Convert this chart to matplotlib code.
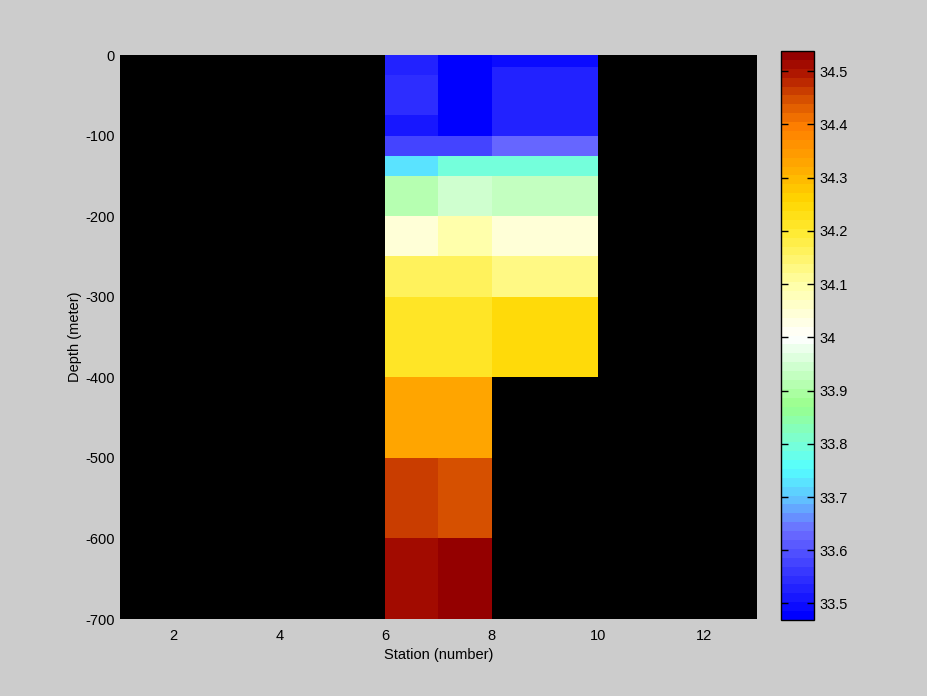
import numpy as np
import matplotlib
matplotlib.use("Agg")
from matplotlib import pyplot as plt
from matplotlib.colors import LinearSegmentedColormap, Normalize

plt.rcParams['font.family'] = ['Liberation Sans', 'DejaVu Sans']
plt.rcParams['font.size'] = 10.5
plt.rcParams['axes.unicode_minus'] = False

# station column edges and per-column depth edges (m) with salinity values
col_x = [[6, 7], [7, 8], [8, 10]]
col_depths = [
    [0, 25, 75, 100, 125, 150, 200, 250, 300, 400, 500, 600, 700],
    [0, 75, 100, 125, 150, 200, 250, 300, 400, 500, 600, 700],
    [0, 15, 100, 125, 150, 200, 250, 300, 400],
]
col_salt = [
    [33.53, 33.54, 33.515, 33.58, 33.73, 33.91, 34.04, 34.17, 34.22, 34.33, 34.46, 34.51],
    [33.47, 33.48, 33.58, 33.80, 33.95, 34.09, 34.17, 34.22, 34.33, 34.44, 34.53],
    [33.50, 33.52, 33.62, 33.80, 33.93, 34.04, 34.13, 34.25],
]

vmin, vmax = 33.469, 34.538
anchors = [
    (33.469, (0.0, 0.0, 1.0)),
    (33.63, (0.42, 0.42, 1.0)),
    (33.69, (0.38, 0.75, 1.0)),
    (33.75, (0.33, 1.0, 1.0)),
    (33.80, (0.48, 1.0, 0.83)),
    (33.87, (0.6, 1.0, 0.55)),
    (33.94, (0.8, 1.0, 0.8)),
    (34.0, (1.0, 1.0, 1.0)),
    (34.1, (1.0, 1.0, 0.66)),
    (34.2, (1.0, 0.92, 0.2)),
    (34.26, (1.0, 0.84, 0.0)),
    (34.32, (1.0, 0.68, 0.0)),
    (34.40, (1.0, 0.5, 0.0)),
    (34.45, (0.85, 0.33, 0.0)),
    (34.50, (0.7, 0.1, 0.0)),
    (34.538, (0.58, 0.0, 0.0)),
]
cmap = LinearSegmentedColormap.from_list(
    'salt', [((v - vmin) / (vmax - vmin), c) for v, c in anchors], N=64)
norm = Normalize(vmin=vmin, vmax=vmax)

fig = plt.figure(figsize=(9.28, 6.96), dpi=100, facecolor=(0.8, 0.8, 0.8))
ax = fig.add_axes([0.1293, 0.1106, 0.6864, 0.8103])
ax.set_facecolor('black')

for xs, deps, vals in zip(col_x, col_depths, col_salt):
    z = -np.array(deps, dtype=float)
    c = np.array(vals).reshape(-1, 1)
    mesh = ax.pcolormesh(xs, z, c, cmap=cmap, norm=norm, shading='flat')

ax.set_xlim(1, 13)
ax.set_ylim(-700, 0)
ax.set_xticks(range(2, 13, 2))
ax.set_yticks(range(-700, 1, 100))
ax.tick_params(axis='x', length=0, pad=7)
ax.tick_params(axis='y', length=0, pad=4)
ax.set_xlabel('Station (number)', labelpad=4)
ax.set_ylabel('Depth (meter)', labelpad=2)
for s in ax.spines.values():
    s.set_visible(False)

cax = fig.add_axes([0.8416, 0.1092, 0.0356, 0.8175])
cb = fig.colorbar(mesh, cax=cax)
ticks = np.round(np.arange(33.5, 34.51, 0.1), 1)
cb.set_ticks(ticks)
cb.set_ticklabels(['%g' % t for t in ticks])
cax.tick_params(direction='in', left=True, right=True, length=5, width=1, pad=4)
cb.outline.set_linewidth(1)

fig.savefig('out.png', dpi=100, facecolor=fig.get_facecolor())
